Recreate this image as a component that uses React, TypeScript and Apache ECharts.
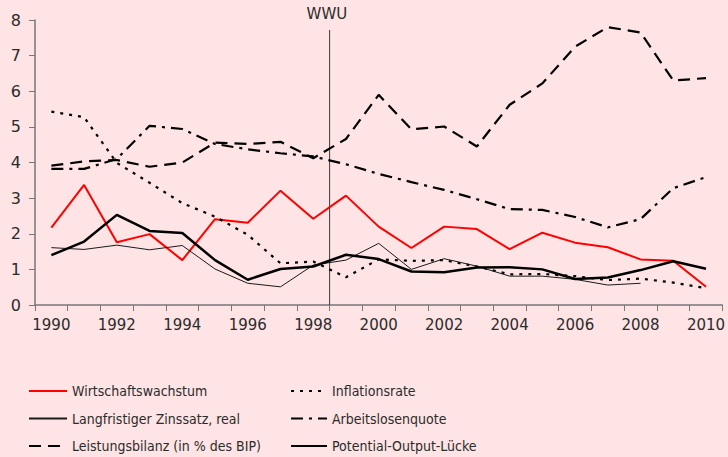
import React, { useEffect, useRef } from "react";
import * as echarts from "echarts";

const years = ["1990","1991","1992","1993","1994","1995","1996","1997","1998","1999","2000","2001","2002","2003","2004","2005","2006","2007","2008","2009","2010"];
const wachstum = [2.17, 3.37, 1.76, 1.99, 1.26, 2.41, 2.31, 3.21, 2.42, 3.07, 2.2, 1.6, 2.2, 2.13, 1.57, 2.03, 1.75, 1.62, 1.28, 1.24, 0.51];
const zinssatz = [1.61, 1.56, 1.68, 1.55, 1.67, 1.01, 0.61, 0.51, 1.12, 1.26, 1.73, 1.0, 1.3, 1.09, 0.81, 0.81, 0.72, 0.56, 0.61, null, null];
const leistungsbilanz = [3.91, 4.03, 4.07, 3.88, 4.0, 4.56, 4.52, 4.58, 4.12, 4.66, 5.9, 4.93, 5.01, 4.45, 5.62, 6.22, 7.25, 7.8, 7.65, 6.3, 6.37];
const inflation = [5.43, 5.27, 3.99, 3.43, 2.86, 2.48, 1.97, 1.17, 1.22, 0.78, 1.28, 1.24, 1.26, 1.08, 0.86, 0.87, 0.81, 0.7, 0.74, 0.63, 0.47];
const arbeitslosen = [3.82, 3.82, 4.1, 5.03, 4.94, 4.52, 4.37, 4.26, 4.17, 3.95, 3.68, 3.45, 3.23, 2.97, 2.69, 2.67, 2.47, 2.18, 2.41, 3.28, 3.59];
const potential = [1.4, 1.78, 2.53, 2.08, 2.02, 1.26, 0.71, 1.01, 1.08, 1.41, 1.29, 0.94, 0.92, 1.05, 1.06, 1.0, 0.73, 0.77, 0.98, 1.23, 1.02];
const wwuPos = 9; // boundary between 1998 and 1999 (category slots)
const wwuTop = 7.72;

const AXFONT = "'DejaVu Sans', Lato, sans-serif";
const LGFONT = "'DejaVu Sans Condensed', Lato, sans-serif";
const TXT = "#2b2b2b";

export default function App() {
  const ref = useRef<HTMLDivElement>(null);
  useEffect(() => {
    document.body.style.margin = "0";
    const chart = echarts.init(ref.current!, undefined, { renderer: "svg" });
    const line = (name: string, data: any[], color: string, width: number, type: any) => ({
      name,
      type: "line",
      data,
      symbol: "none",
      showSymbol: false,
      connectNulls: false,
      lineStyle: { color, width, type },
      itemStyle: { color },
      z: 3,
    });
    const legendBase = {
      orient: "vertical",
      top: 384,
      height: 72,
      padding: 0,
      itemWidth: 38,
      itemHeight: 14,
      itemGap: 13.5,
      itemStyle: { opacity: 0 },
      textStyle: { fontSize: 14, lineHeight: 14, color: TXT, fontFamily: LGFONT },
    };
    chart.setOption({
      animation: false,
      backgroundColor: "#FEE4E5",
      textStyle: { fontFamily: AXFONT, color: TXT },
      grid: { left: 35, right: 1, top: 20, bottom: 152, containLabel: false },
      xAxis: [
        {
          type: "category",
          data: years,
          boundaryGap: true,
          axisLine: { lineStyle: { color: "#777", width: 1.5 } },
          axisTick: { show: true, length: 6, lineStyle: { color: "#777" }, interval: 0 },
          axisLabel: { interval: 1, fontSize: 15, color: TXT, margin: 12, fontFamily: AXFONT },
          splitLine: { show: false },
        },
        {
          type: "value",
          min: 0,
          max: years.length,
          show: false,
        },
      ],
      yAxis: {
        type: "value",
        min: 0,
        max: 8,
        interval: 1,
        axisLine: { show: true, lineStyle: { color: "#777", width: 1.5 } },
        axisTick: { show: true, length: 6, lineStyle: { color: "#777" } },
        axisLabel: { fontSize: 16, color: TXT, margin: 14, fontFamily: AXFONT },
        splitLine: { show: false },
      },
      legend: [
        {
          ...legendBase,
          left: 28,
          data: ["Wirtschaftswachstum", "Langfristiger Zinssatz, real", "Leistungsbilanz (in % des BIP)"],
        },
        {
          ...legendBase,
          left: 290,
          itemWidth: 36,
          data: ["Inflationsrate", "Arbeitslosenquote", "Potential-Output-Lücke"],
        },
      ],
      series: [
        line("Wirtschaftswachstum", wachstum, "#FF0000", 2, "solid"),
        line("Inflationsrate", inflation, "#000000", 2.2, [3, 6]),
        line("Langfristiger Zinssatz, real", zinssatz, "#1a1a1a", 1, "solid"),
        line("Arbeitslosenquote", arbeitslosen, "#000000", 2.2, [12, 6, 3, 6]),
        line("Leistungsbilanz (in % des BIP)", leistungsbilanz, "#000000", 2.2, [12, 7]),
        line("Potential-Output-Lücke", potential, "#000000", 2.5, "solid"),
        {
          name: "WWU",
          type: "line",
          xAxisIndex: 1,
          data: [
            [wwuPos, 0],
            [wwuPos, wwuTop],
          ],
          symbol: "none",
          lineStyle: { color: "#3a3a3a", width: 1 },
          z: 2,
          endLabel: {
            show: true,
            formatter: "WWU",
            fontSize: 15,
            color: TXT,
            fontFamily: AXFONT,
            offset: [-31, -16],
          },
        },
      ],
    });
    return () => chart.dispose();
  }, []);
  return <div ref={ref} style={{ width: 728, height: 457 }} />;
}
